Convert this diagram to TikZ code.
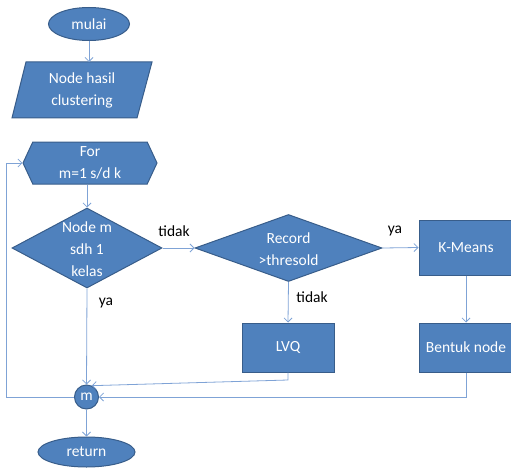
\documentclass[tikz,border=0pt]{standalone}
\usepackage{fontspec}
\setmainfont{Carlito}
\usetikzlibrary{shapes.geometric,shapes.symbols,arrows.meta}
\definecolor{fillb}{HTML}{4F81BD}
\definecolor{edgeb}{HTML}{385D8A}
\definecolor{linkb}{HTML}{7FA3D6}
\begin{document}
\begin{tikzpicture}[x=1pt,y=-1pt, font=\fontsize{15.5}{22}\selectfont,
  shapebase/.style={draw=edgeb, fill=fillb, line width=1pt, text=white, inner sep=0pt},
  intext/.style={text=white, align=center, inner sep=0pt},
  conn/.style={draw=linkb, line width=0.8pt},
  arr/.style={conn, -{Straight Barb[length=4pt,width=8pt]}},
  lbl/.style={text=black, inner sep=0pt}]
\useasboundingbox (0,0) rectangle (511,468);

\node[shapebase, ellipse, minimum width=81pt, minimum height=33pt] (mulai) at (89,24) {mulai};
\draw[shapebase] (26,62) -- (152,62) -- (137,118) -- (12,118) -- cycle;
\coordinate (inputtop) at (89,62);
\node[intext] (inputtext) at (82,90) {Node hasil\\clustering};
\node[shapebase, signal, signal to=west and east, signal pointer angle=130, minimum width=134pt, minimum height=42pt] (for) at (90,163) {};
\node[intext] (fortext) at (90,163) {For\\m=1 s/d k};
\node[shapebase, diamond, minimum width=150pt, minimum height=80pt] (d1) at (87,248) {};
\node[intext] (d1text) at (87,249) {Node m\\sdh 1\\kelas};
\node[shapebase, diamond, minimum width=187pt, minimum height=67pt] (d2) at (288.5,248) {};
\node[intext] (d2text) at (288.5,249) {Record\\>thresold};
\node[shapebase, minimum width=94pt, minimum height=55pt] (km) at (466,247.5) {K-Means};
\node[shapebase, minimum width=94pt, minimum height=49pt] (bn) at (466,347.5) {Bentuk node};
\node[shapebase, minimum width=92pt, minimum height=49pt] (lvq) at (288,347.5) {LVQ};
\node[shapebase, circle, minimum size=24pt] (m) at (86.5,397) {m};
\node[shapebase, ellipse, minimum width=97pt, minimum height=30pt] (ret) at (86.5,452) {return};

\draw[arr] (mulai.south) -- (inputtop);
\draw[arr] (d1.north |- for.south) -- (d1.north);
\draw[arr] (d1.east) -- (d2.west);
\draw[arr] (d2.east) -- (km.west);
\draw[arr] (d2.south) -- (lvq.north);
\draw[arr] (km.south) -- (bn.north);
\draw[arr] (d1.south) -- (m.north);
\coordinate (lvqbend) at (288,380);
\draw[arr] (lvq.south) -- (lvqbend) -- (m.65);
\draw[arr] (bn.south) |- (m.east);
\coordinate (loopc) at (6,397);
\draw[arr] (m.west) -- (loopc) |- (for.west);
\draw[arr] (m.south) -- (ret.north);

\node[lbl] (t1) at (174,231) {tidak};
\node[lbl] (y1) at (395,231) {ya};
\node[lbl] (t2) at (312,297) {tidak};
\node[lbl] (y2) at (106,303) {ya};
\end{tikzpicture}
\end{document}
